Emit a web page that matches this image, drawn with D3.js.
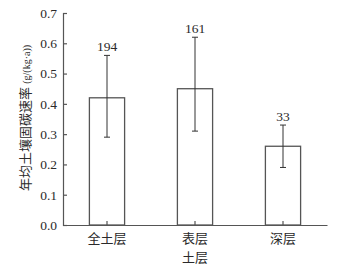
<!DOCTYPE html>
<html lang="zh">
<head>
  <meta charset="UTF-8">
  <script src="https://d3js.org/d3.v7.min.js"></script>
  <style>
    body { margin: 0; background: #fff; }
    text { fill: #2a2a2a; }
  </style>
</head>
<body>
  <svg id="chart" width="359" height="271"></svg>
  <script>
    var categories = ['全土层', '表层', '深层'];
    var means = [0.42, 0.45, 0.26];
    var lows = [0.29, 0.31, 0.19];
    var highs = [0.56, 0.62, 0.33];
    var counts = ['194', '161', '33'];
    var yTicks = [0, 0.1, 0.2, 0.3, 0.4, 0.5, 0.6, 0.7];

    var svg = d3.select('#chart');
    var ink = '#555';
    var serif = '"Liberation Serif", "Times New Roman", serif';
    var cjk = '"Liberation Serif", "Noto Sans CJK SC", serif';

    var x = d3.scaleBand().domain(categories).range([63, 327]).paddingInner(0.6).paddingOuter(0.3);
    var y = d3.scaleLinear().domain([0, 0.7]).range([225, 13]);

    // bars
    svg.selectAll('rect.bar').data(categories).enter().append('rect')
      .attr('class', 'bar')
      .attr('x', d => x(d))
      .attr('y', (d, i) => y(means[i]))
      .attr('width', x.bandwidth())
      .attr('height', (d, i) => y(0) - y(means[i]))
      .attr('fill', '#fff').attr('stroke', ink).attr('stroke-width', 1.3);

    // error bars
    var cx = d => x(d) + x.bandwidth() / 2;
    var eb = svg.selectAll('g.err').data(categories).enter().append('g')
      .attr('stroke', '#333').attr('stroke-width', 1);
    eb.append('line').attr('x1', cx).attr('x2', cx)
      .attr('y1', (d, i) => y(lows[i])).attr('y2', (d, i) => y(highs[i]));
    eb.append('line').attr('x1', d => cx(d) - 3).attr('x2', d => cx(d) + 3)
      .attr('y1', (d, i) => y(highs[i])).attr('y2', (d, i) => y(highs[i]));
    eb.append('line').attr('x1', d => cx(d) - 3).attr('x2', d => cx(d) + 3)
      .attr('y1', (d, i) => y(lows[i])).attr('y2', (d, i) => y(lows[i]));

    // counts
    svg.selectAll('text.n').data(categories).enter().append('text')
      .attr('class', 'n')
      .attr('x', cx)
      .attr('y', (d, i) => y(highs[i]) - 4)
      .attr('text-anchor', 'middle')
      .style('font-family', serif).style('font-size', '13.5px')
      .text((d, i) => counts[i]);

    // axes
    var yAxis = d3.axisLeft(y).tickValues(yTicks).tickFormat(d3.format('.1f')).tickSizeInner(-4).tickSizeOuter(-4).tickPadding(6);
    var gy = svg.append('g').attr('transform', 'translate(63,0)').call(yAxis);
    gy.selectAll('text').style('font-family', serif).style('font-size', '13.5px');

    var xAxis = d3.axisBottom(x).tickSizeInner(-4).tickSizeOuter(0).tickPadding(9);
    var gx = svg.append('g').attr('transform', 'translate(0,225)').call(xAxis);
    gx.selectAll('text').style('font-family', cjk).style('font-size', '13px');

    svg.selectAll('.domain, .tick line').attr('stroke', ink).attr('stroke-width', 1.2);

    svg.append('text').attr('x', cx(categories[1])).attr('y', 262)
      .attr('text-anchor', 'middle')
      .style('font-family', cjk).style('font-size', '13px').text('土层');

    var yl = svg.append('text')
      .attr('transform', 'translate(30,118) rotate(-90)')
      .attr('text-anchor', 'middle')
      .style('font-family', cjk).style('font-size', '13px');
    yl.append('tspan').text('年均土壤固碳速率 ');
    yl.append('tspan').style('font-size', '10px').text('(g/(kg·a))');
  </script>
</body>
</html>
